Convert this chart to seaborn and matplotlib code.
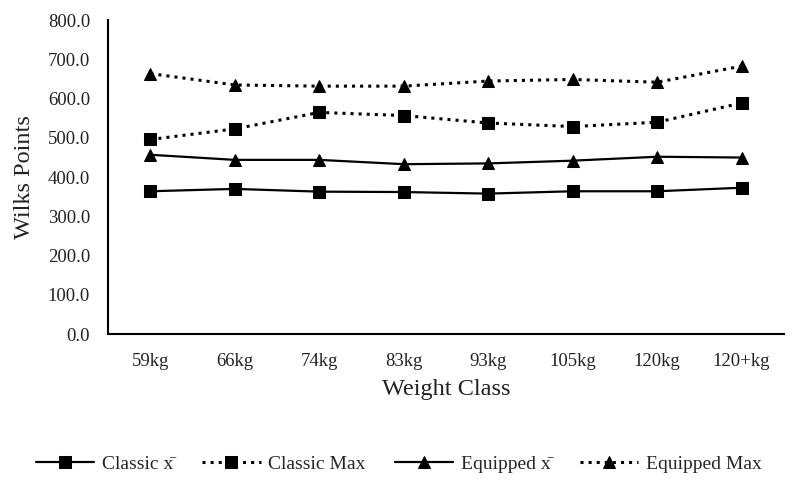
import matplotlib
matplotlib.use("Agg")
from matplotlib import pyplot as plt
import seaborn as sns
import pandas as pd

weight_classes = ["59kg", "66kg", "74kg", "83kg", "93kg", "105kg", "120kg", "120+kg"]
classic_mean = [364, 370, 363, 362, 358, 364, 364, 373]
classic_max = [496, 523, 565, 557, 538, 529, 540, 589]
equipped_mean = [457, 444, 444, 433, 435, 442, 452, 450]
equipped_max = [664, 635, 632, 632, 645, 649, 642, 683]

series = [
    ("Classic x\u0304", classic_mean, "s", "-"),
    ("Classic Max", classic_max, "s", ":"),
    ("Equipped x\u0304", equipped_mean, "^", "-"),
    ("Equipped Max", equipped_max, "^", ":"),
]

sns.set_theme(style="white")
plt.rcParams["font.family"] = ["Liberation Serif", "DejaVu Serif"]

fig = plt.figure(figsize=(7.95, 4.82), dpi=100)
ax = fig.add_axes([0.136, 0.307, 0.850, 0.651])

for name, vals, marker, ls in series:
    df = pd.DataFrame({"Weight Class": weight_classes, "Wilks Points": vals})
    sns.lineplot(data=df, x="Weight Class", y="Wilks Points", ax=ax, sort=False,
                 color="black", marker=marker, markersize=8.5 if marker == "^" else 8,
                 markeredgecolor="black",
                 linestyle=ls, linewidth=2.2 if ls == ":" else 1.6, label=name)

ax.set_ylim(0, 800)
ax.set_xlim(-0.5, 7.5)
ax.set_yticks(range(0, 801, 100))
ax.set_yticklabels([f"{v:.1f}" for v in range(0, 801, 100)])
ax.tick_params(axis="both", length=0, labelsize=13.5, colors="#222222")
ax.tick_params(axis="y", pad=13)
ax.tick_params(axis="x", pad=14)
for s in ["top", "right"]:
    ax.spines[s].set_visible(False)
for s in ["left", "bottom"]:
    ax.spines[s].set_color("black")
    ax.spines[s].set_linewidth(1.5)
ax.set_xlabel("Weight Class", fontsize=17.5, color="#222222", labelpad=6)
ax.set_ylabel("Wilks Points", fontsize=17.5, color="#222222", labelpad=9)

ax.legend(loc="upper center", bbox_to_anchor=(0.43, -0.33), ncol=4, frameon=False,
          fontsize=14, handlelength=3.0, columnspacing=1.5, handletextpad=0.4)

fig.savefig("out.png", dpi=100)
